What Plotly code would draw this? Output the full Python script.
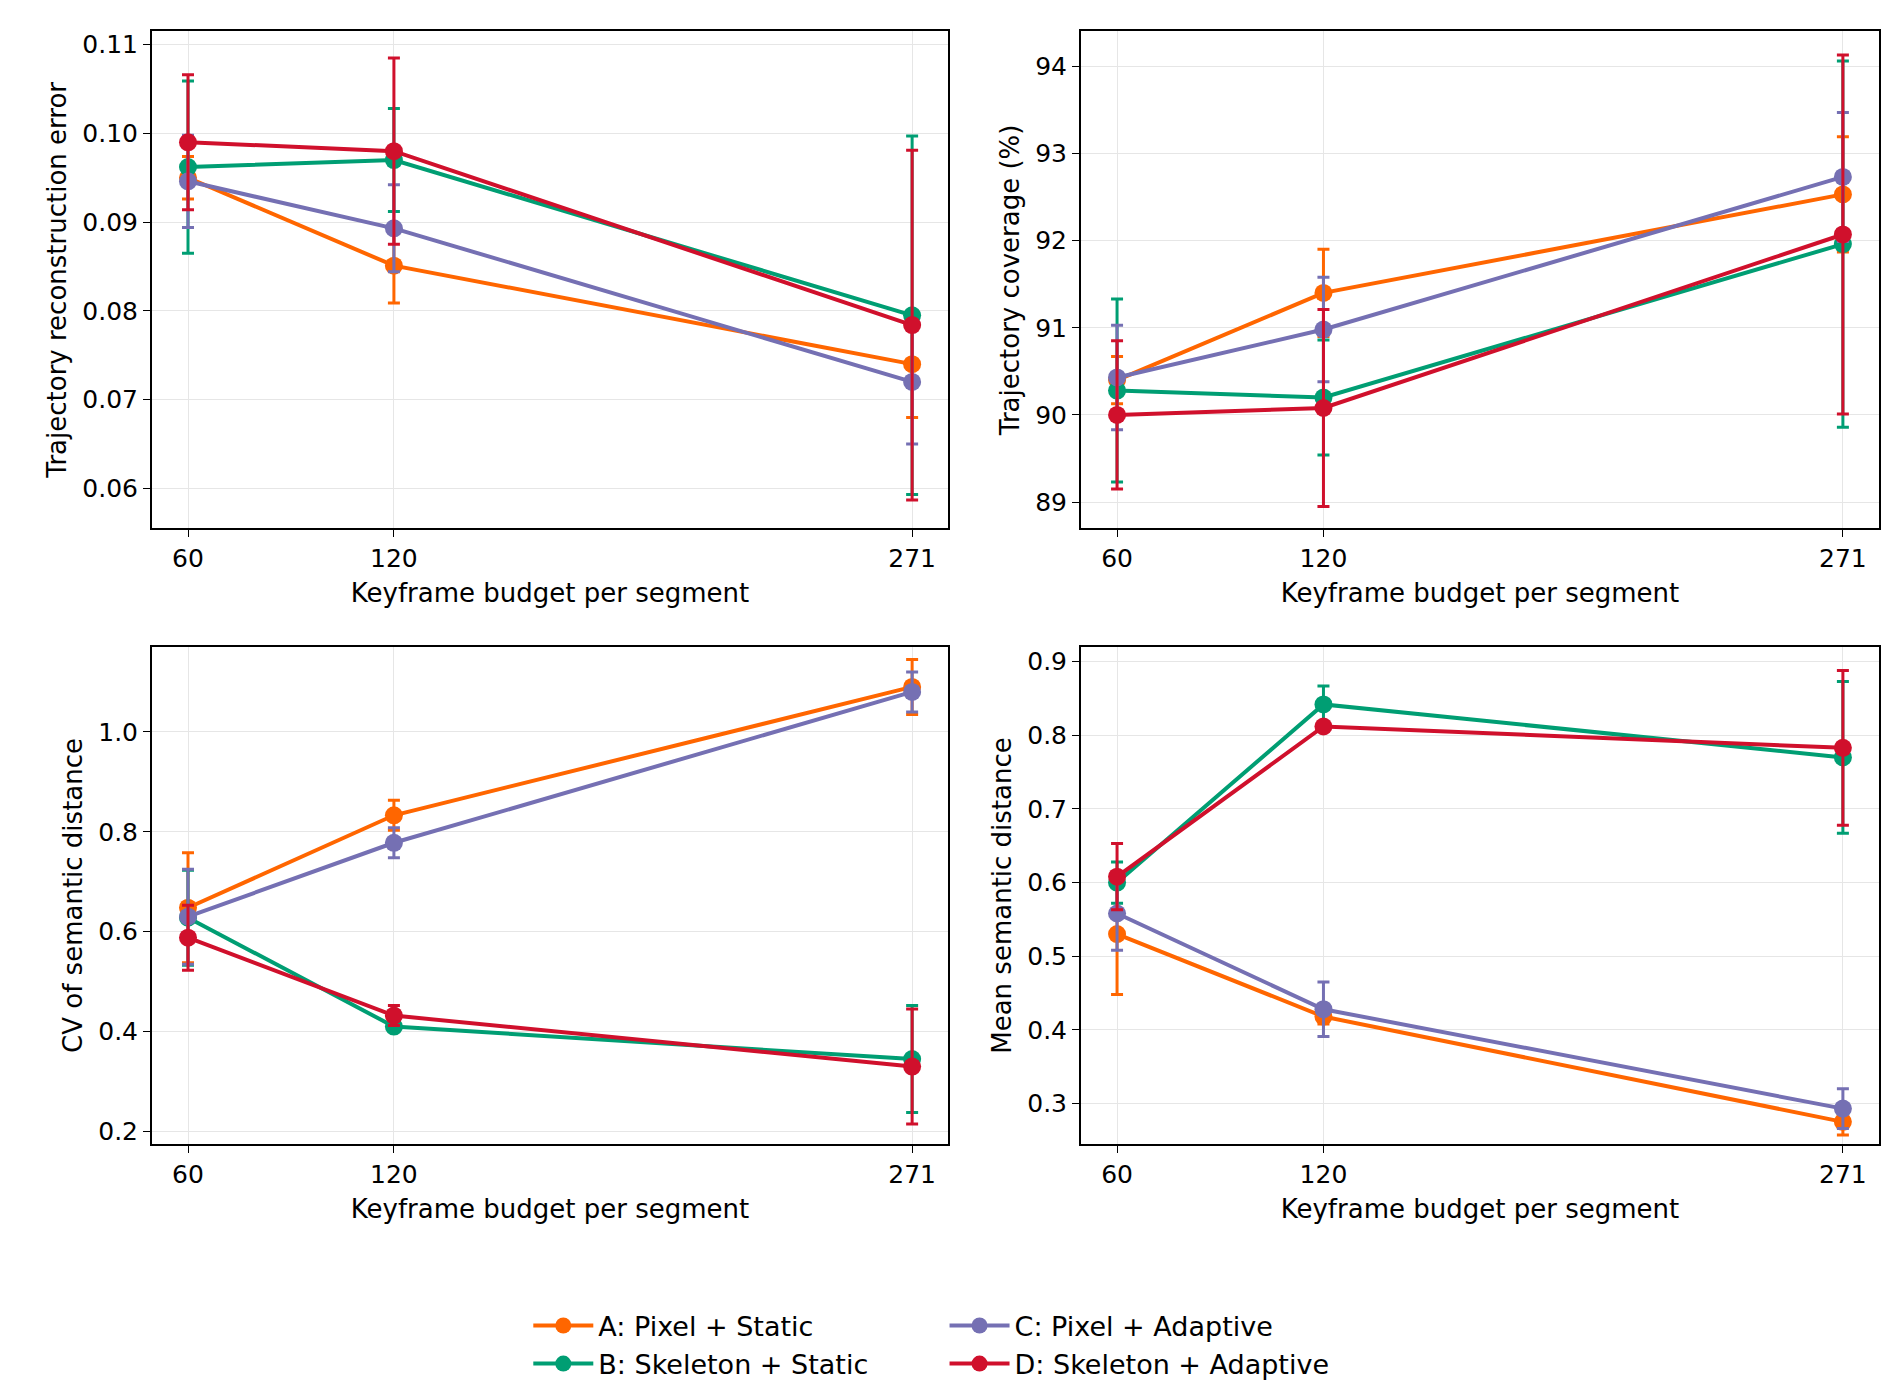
import plotly.graph_objects as go

budgets = [60, 120, 271]
names = ["A: Pixel + Static", "B: Skeleton + Static", "C: Pixel + Adaptive", "D: Skeleton + Adaptive"]
colors = ["#ff6600", "#009e73", "#7570b3", "#d0102c"]

# reconstruction error (mean, err) per method
err_mean = [[0.0950, 0.0851, 0.0740], [0.0962, 0.0970, 0.0795], [0.0946, 0.0893, 0.0720], [0.0990, 0.0980, 0.0784]]
err_sd = [[0.0024, 0.0042, 0.0060], [0.0097, 0.0058, 0.0202], [0.0052, 0.0049, 0.0070], [0.0076, 0.0105, 0.0197]]

cov_mean = [[90.40, 91.40, 92.53], [90.28, 90.20, 91.96], [90.43, 90.98, 92.73], [90.00, 90.08, 92.07]]
cov_sd = [[0.27, 0.50, 0.66], [1.05, 0.66, 2.10], [0.60, 0.60, 0.74], [0.85, 1.13, 2.06]]

cv_mean = [[0.648, 0.833, 1.090], [0.628, 0.410, 0.345], [0.630, 0.778, 1.080], [0.588, 0.432, 0.330]]
cv_sd = [[0.110, 0.030, 0.055], [0.095, 0.010, 0.107], [0.095, 0.030, 0.040], [0.065, 0.020, 0.115]]

sem_mean = [[0.530, 0.418, 0.275], [0.600, 0.842, 0.770], [0.558, 0.428, 0.293], [0.608, 0.812, 0.783]]
sem_sd = [[0.082, 0.010, 0.018], [0.028, 0.025, 0.103], [0.050, 0.037, 0.027], [0.045, 0.005, 0.105]]

panels = [
    (err_mean, err_sd, "Trajectory reconstruction error", [0.0555, 0.1115], [0.06, 0.07, 0.08, 0.09, 0.10, 0.11], ["0.06", "0.07", "0.08", "0.09", "0.10", "0.11"]),
    (cov_mean, cov_sd, "Trajectory coverage (%)", [88.7, 94.4], [89, 90, 91, 92, 93, 94], None),
    (cv_mean, cv_sd, "CV of semantic distance", [0.175, 1.17], [0.2, 0.4, 0.6, 0.8, 1.0], ["0.2", "0.4", "0.6", "0.8", "1.0"]),
    (sem_mean, sem_sd, "Mean semantic distance", [0.245, 0.92], [0.3, 0.4, 0.5, 0.6, 0.7, 0.8, 0.9], None),
]

xdom = [[0.076, 0.497], [0.567, 0.989]]
ydom = [[0.628, 0.984], [0.187, 0.543]]
font = "DejaVu Sans"

fig = go.Figure()
for p, (means, sds, ytitle, yr, tv, tt) in enumerate(panels):
    ax = "" if p == 0 else str(p + 1)
    for i in range(4):
        fig.add_trace(go.Scatter(
            x=budgets, y=means[i],
            error_y=dict(type="data", array=sds[i], color=colors[i], thickness=3, width=6),
            mode="lines+markers",
            line=dict(color=colors[i], width=4),
            marker=dict(color=colors[i], size=18),
            name=names[i],
            showlegend=(p == 0),
            legend="legend" if i in (0, 1) else "legend2",
            xaxis="x" + ax, yaxis="y" + ax,
        ))
    xa = dict(domain=xdom[p % 2], anchor="y" + ax, range=[49.45, 281.55],
              tickvals=budgets, title=dict(text="Keyframe budget per segment", standoff=12))
    ya = dict(domain=ydom[p // 2], anchor="x" + ax, range=yr, tickvals=tv, title=dict(text=ytitle, standoff=8))
    if tt:
        ya["ticktext"] = tt
    common = dict(showline=True, linecolor="black", linewidth=1.5, mirror=True, ticks="outside",
                  ticklen=7, tickcolor="black", showgrid=True, gridcolor="#e6e6e6", zeroline=False,
                  tickfont=dict(size=25), title_font=dict(size=26))
    xa.update(common)
    ya.update(common)
    fig.update_layout(**{"xaxis" + ax: xa, "yaxis" + ax: ya})

leg = dict(orientation="v", yanchor="middle", y=0.043, font=dict(size=27), bgcolor="rgba(0,0,0,0)",
           tracegroupgap=10, xanchor="left", itemwidth=60)
fig.update_layout(
    width=1892, height=1399,
    margin=dict(l=0, r=0, t=0, b=0),
    plot_bgcolor="white", paper_bgcolor="white",
    font=dict(family=font, size=25, color="black"),
    legend=dict(leg, x=0.275),
    legend2=dict(leg, x=0.495),
)

fig.write_html("out.html")
